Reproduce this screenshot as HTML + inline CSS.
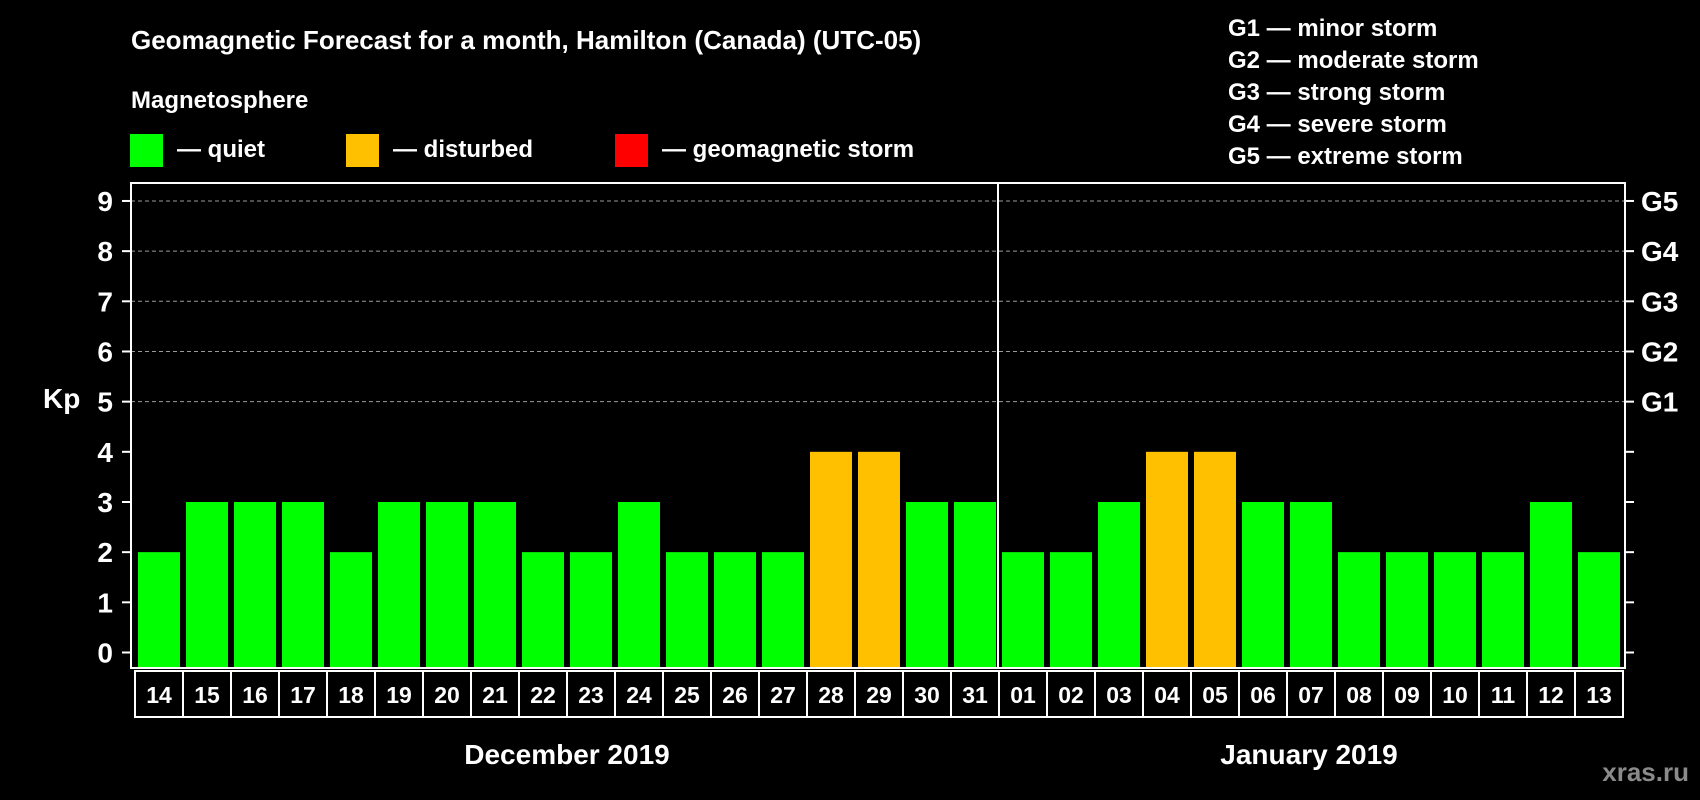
<!DOCTYPE html>
<html><head><meta charset="utf-8"><style>
body{margin:0;background:#000;}
svg{display:block;font-family:"Liberation Sans",Arial,sans-serif;font-weight:bold;}
</style></head><body>
<svg id="chart" width="1700" height="800" viewBox="0 0 1700 800" xmlns="http://www.w3.org/2000/svg">
<rect width="1700" height="800" fill="#000"/>
<text x="131" y="49" fill="#fff" font-size="26">Geomagnetic Forecast for a month, Hamilton (Canada) (UTC-05)</text>
<text x="131" y="108" fill="#fff" font-size="24">Magnetosphere</text>
<rect x="130" y="134" width="33" height="33" fill="#00ff00"/>
<text x="177" y="157" fill="#fff" font-size="24">— quiet</text>
<rect x="346" y="134" width="33" height="33" fill="#ffc000"/>
<text x="393" y="157" fill="#fff" font-size="24">— disturbed</text>
<rect x="615" y="134" width="33" height="33" fill="#ff0000"/>
<text x="662" y="157" fill="#fff" font-size="24">— geomagnetic storm</text>
<g fill="#fff" font-size="24">
<text x="1228" y="36">G1 — minor storm</text>
<text x="1228" y="68">G2 — moderate storm</text>
<text x="1228" y="100">G3 — strong storm</text>
<text x="1228" y="132">G4 — severe storm</text>
<text x="1228" y="164">G5 — extreme storm</text>
</g>
<text x="43" y="408" fill="#fff" font-size="28">Kp</text>
<g id="grid"></g>
<g id="bars"></g>
<g id="axes"></g>
<text x="567" y="764" fill="#fff" font-size="28" text-anchor="middle">December 2019</text>
<text x="1309" y="764" fill="#fff" font-size="28" text-anchor="middle">January 2019</text>
<text x="1689" y="781" fill="#8a8a8a" font-size="26" text-anchor="end">xras.ru</text>
</svg>
<script>
const days = ["14","15","16","17","18","19","20","21","22","23","24","25","26","27","28","29","30","31","01","02","03","04","05","06","07","08","09","10","11","12","13"];
const kpValues = [2,3,3,3,2,3,3,3,2,2,3,2,2,2,4,4,3,3,2,2,3,4,4,3,3,2,2,2,2,3,2];
const yTicks = [0,1,2,3,4,5,6,7,8,9];
const gLabels = ["","","","","","G1","G2","G3","G4","G5"];
const monthBreakIndex = 18;

const NS = "http://www.w3.org/2000/svg";
const plotL = 131, plotR = 1625, plotT = 183, plotB = 668;
const y0 = 652.5, yUnit = 50.17;
const cellL = 135, cellW = 48;
function yScale(v){ return y0 - v*yUnit; }
function xCell(i){ return cellL + i*cellW; }
function mk(tag, attrs, parent){ const e=document.createElementNS(NS,tag); for(const k in attrs) e.setAttribute(k,attrs[k]); parent.appendChild(e); return e; }

const grid = document.getElementById('grid');
const bars = document.getElementById('bars');
const axes = document.getElementById('axes');

yTicks.forEach((t)=>{
  const y = yScale(t);
  if (t >= 5) {
    const gl = mk('line',{x1:plotL,x2:plotR,y1:y,y2:y,stroke:'#9a9a9a','stroke-width':1,'stroke-dasharray':'4,3'},grid);
    
    
  }
  const tl = mk('line',{x1:plotL-9,x2:plotL,y1:y,y2:y,stroke:'#fff','stroke-width':2},axes);
  
  
  const tr = mk('line',{x1:plotR,x2:plotR+9,y1:y,y2:y,stroke:'#fff','stroke-width':2},axes);
  
  
  const lb = mk('text',{x:113,y:y+10,fill:'#fff','font-size':28,'text-anchor':'end'},axes);
  lb.textContent = t;
  
  
  if (gLabels[t]) {
    const gt = mk('text',{x:1641,y:y+10,fill:'#fff','font-size':28},axes);
    gt.textContent = gLabels[t];
    
    
  }
});

kpValues.forEach((v,i)=>{
  const x = xCell(i)+3;
  const r = mk('rect',{x:x,y:yScale(v),width:42,height:(plotB-1)-yScale(v),fill: v>=5?'#ff0000':(v>=4?'#ffc000':'#00ff00')},bars);
  
  
});

const frame = mk('rect',{x:plotL,y:plotT,width:plotR-plotL,height:plotB-plotT,fill:'none',stroke:'#fff','stroke-width':2},axes);


const div = mk('line',{x1:xCell(monthBreakIndex)-1,x2:xCell(monthBreakIndex)-1,y1:plotT,y2:plotB,stroke:'#fff','stroke-width':2},axes);



days.forEach((d,i)=>{
  const c = mk('rect',{x:xCell(i),y:671,width:cellW,height:46,fill:'#000',stroke:'#fff','stroke-width':2},axes);
  
  
  const t = mk('text',{x:xCell(i)+cellW/2,y:703,fill:'#fff','font-size':23,'text-anchor':'middle'},axes);
  t.textContent = d;
  
  
});
</script>
</body></html>
